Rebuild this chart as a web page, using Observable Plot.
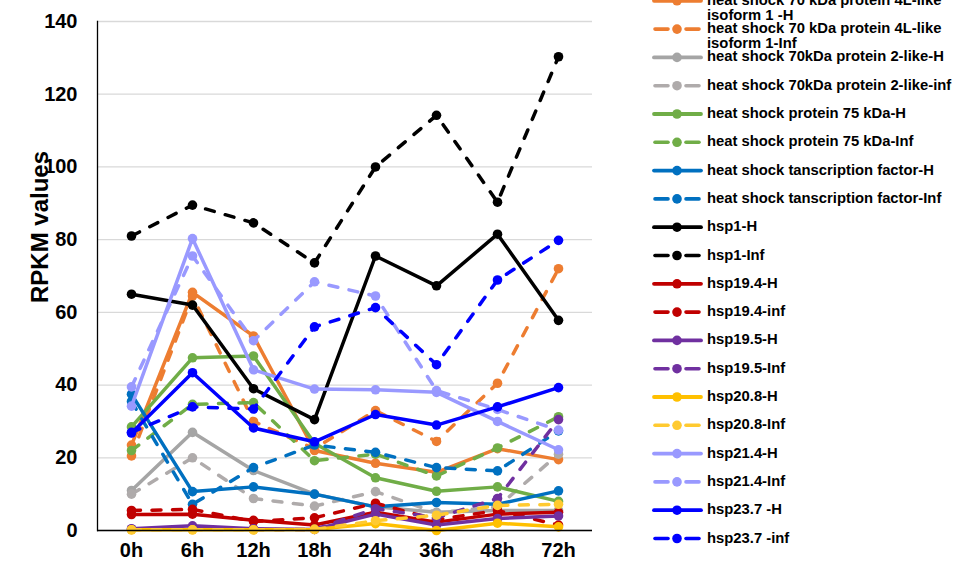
<!DOCTYPE html>
<html><head><meta charset="utf-8">
<script src="https://cdn.jsdelivr.net/npm/d3@7"></script>
<script src="https://cdn.jsdelivr.net/npm/@observablehq/plot@0.6"></script>
<style>
html,body{margin:0;padding:0;background:#fff;overflow:hidden;}
#wrap{position:relative;width:953px;height:565px;font-family:"Liberation Sans",Arial,sans-serif;font-weight:bold;}
#legend{position:absolute;left:0;top:0;width:953px;height:565px;pointer-events:none;}
.item{position:absolute;left:707px;font-size:14.8px;line-height:15px;white-space:pre;color:#000;}
</style></head><body><div id="wrap"></div>
<script>
const times = ["0h","6h","12h","18h","24h","36h","48h","72h"];
const yTicks = [0,20,40,60,80,100,120,140];
const seriesNames = [
  "heat shock 70 kDa protein 4L-like isoform 1 -H",
  "heat shock 70 kDa protein 4L-like isoform 1-Inf",
  "heat shock 70kDa protein 2-like-H",
  "heat shock 70kDa protein 2-like-inf",
  "heat shock protein 75 kDa-H",
  "heat shock protein 75 kDa-Inf",
  "heat shock tanscription factor-H",
  "heat shock tanscription factor-Inf",
  "hsp1-H","hsp1-Inf","hsp19.4-H","hsp19.4-inf","hsp19.5-H","hsp19.5-Inf",
  "hsp20.8-H","hsp20.8-Inf","hsp21.4-H","hsp21.4-Inf","hsp23.7 -H","hsp23.7 -inf"
];
const hsp70_4L_H   = [23.5, 65.5, 53.5, 22, 18.5, 16, 22.5, 19.5];
const hsp70_4L_Inf = [20.5, 64.5, 30, 22.5, 33, 24.5, 40.5, 72];
const hsp70_2_H    = [11, 27, 16.5, 10, 6.5, 5, 5.5, 5.5];
const hsp70_2_Inf  = [10, 20, 8.8, 6.7, 10.7, 4.9, 6.5, 21];
const hsp75_H      = [28.5, 47.5, 48, 24, 14.5, 10.8, 12, 8];
const hsp75_Inf    = [22, 34.7, 35.2, 19.2, 21, 15, 22.7, 31.3];
const hstf_H       = [37.5, 10.7, 12, 10, 6.5, 7.7, 7.2, 10.9];
const hstf_Inf     = [35.5, 7.2, 17.3, 23.5, 21.5, 17.3, 16.4, 27.4];
const hsp1_H       = [65, 62, 39, 30.5, 75.5, 67.3, 81.5, 57.8];
const hsp1_Inf     = [81, 89.5, 84.6, 73.6, 100, 114.2, 90.3, 130.3];
const hsp194_H     = [4.4, 4.5, 2.8, 1.5, 5, 2.3, 4.5, 5];
const hsp194_Inf   = [5.5, 5.8, 2.5, 3.5, 7.5, 3, 5.5, 1.5];
const hsp195_H     = [0.5, 1.3, 0.5, 0.3, 4.5, 1.5, 3.3, 4];
const hsp195_Inf   = [0.3, 0.8, 0.3, 0.3, 6, 3.5, 8.8, 30.5];
const hsp208_H     = [0.2, 0.2, 0.2, 0.3, 1.9, 0, 2, 1];
const hsp208_Inf   = [0.2, 0.2, 0.2, 0.3, 2.7, 4.2, 6.9, 7.2];
const hsp214_H     = [34.2, 80.3, 44.2, 38.9, 38.7, 38, 30, 22.2];
const hsp214_Inf   = [39.5, 75.5, 52.2, 68.4, 64.5, 38.5, 33.3, 27.6];
const hsp237_H     = [26.8, 43.4, 28.2, 24.4, 31.9, 29, 34, 39.3];
const hsp237_Inf   = [27, 34, 33.4, 56, 61.3, 45.6, 68.9, 79.8];
const seriesValues = [hsp70_4L_H, hsp70_4L_Inf, hsp70_2_H, hsp70_2_Inf, hsp75_H, hsp75_Inf,
  hstf_H, hstf_Inf, hsp1_H, hsp1_Inf, hsp194_H, hsp194_Inf, hsp195_H, hsp195_Inf,
  hsp208_H, hsp208_Inf, hsp214_H, hsp214_Inf, hsp237_H, hsp237_Inf];

const seriesColors = ["#ED7D31","#ED7D31","#A5A5A5","#AFABAB","#70AD47","#70AD47","#0070C0","#0070C0",
  "#000000","#000000","#C00000","#C00000","#7030A0","#7030A0","#FFC000","#FFCA30",
  "#9999FF","#9999FF","#0000FF","#0000FF"];
const seriesDashed = seriesNames.map((_, i) => i % 2 === 1);

const rows = seriesNames.flatMap((s, i) => times.map((t, j) => ({series: s, t, v: seriesValues[i][j]})));

const marks = [
  Plot.ruleY(yTicks, {stroke: "#d9d9d9", strokeWidth: 1.3}),
  Plot.axisY(yTicks, {tickSize: 0, tickPadding: 20, label: null, fontSize: 20, fontWeight: "bold"}),
  Plot.axisX({tickSize: 0, tickPadding: 12, label: null, fontSize: 20, fontWeight: "bold"}),
  Plot.text(["RPKM values"], {text: d => d, frameAnchor: "middle", textAnchor: "middle", rotate: -90,
    dx: -305, dy: -49, fontSize: 24, fontWeight: "bold", fill: "#000"})
];
seriesNames.forEach((s, i) => {
  const d = rows.filter(r => r.series === s);
  marks.push(Plot.line(d, {x: "t", y: "v", stroke: seriesColors[i], strokeWidth: 3.5,
    strokeDasharray: seriesDashed[i] ? "9,11.5" : null, strokeLinecap: "round", strokeLinejoin: "round"}));
  marks.push(Plot.dot(d, {x: "t", y: "v", r: 4.8, fill: seriesColors[i], stroke: null}));
});
marks.push(Plot.frame({anchor: "left", stroke: "#000", strokeWidth: 1.3}));
marks.push(Plot.ruleY([0], {stroke: "#000", strokeWidth: 1.3}));

const chart = Plot.plot({
  width: 953, height: 565,
  marginLeft: 97, marginRight: 361, marginTop: 21, marginBottom: 35,
  x: {type: "point", domain: times, padding: 0.5},
  y: {domain: [0, 140]},
  style: {fontFamily: "'Liberation Sans', Arial, sans-serif", fontWeight: "bold", fontSize: "20px", color: "#000", background: "#fff"},
  marks
});
const wrap = document.getElementById("wrap");
wrap.appendChild(chart);

// legend
const legend = d3.select(wrap).append("div").attr("id", "legend");
const sw = legend.append("svg").attr("width", 953).attr("height", 565).style("position", "absolute").style("left", 0).style("top", 0);
seriesNames.forEach((s, i) => {
  const cy = 0.8 + 28.3 * i;
  if (seriesDashed[i]) {
    sw.append("line").attr("x1", 655).attr("x2", 668).attr("y1", cy).attr("y2", cy)
      .attr("stroke", seriesColors[i]).attr("stroke-width", 3.6).attr("stroke-linecap", "round");
    sw.append("line").attr("x1", 686).attr("x2", 699).attr("y1", cy).attr("y2", cy)
      .attr("stroke", seriesColors[i]).attr("stroke-width", 3.6).attr("stroke-linecap", "round");
  } else {
    sw.append("line").attr("x1", 654).attr("x2", 701).attr("y1", cy).attr("y2", cy)
      .attr("stroke", seriesColors[i]).attr("stroke-width", 3.8).attr("stroke-linecap", "round");
  }
  sw.append("circle").attr("cx", 677).attr("cy", cy).attr("r", 4.8).attr("fill", seriesColors[i]);
  legend.append("div").attr("class", "item").style("top", (cy - 8) + "px")
    .text(s.replace(" isoform", "\nisoform"));
});
</script>
</body></html>
